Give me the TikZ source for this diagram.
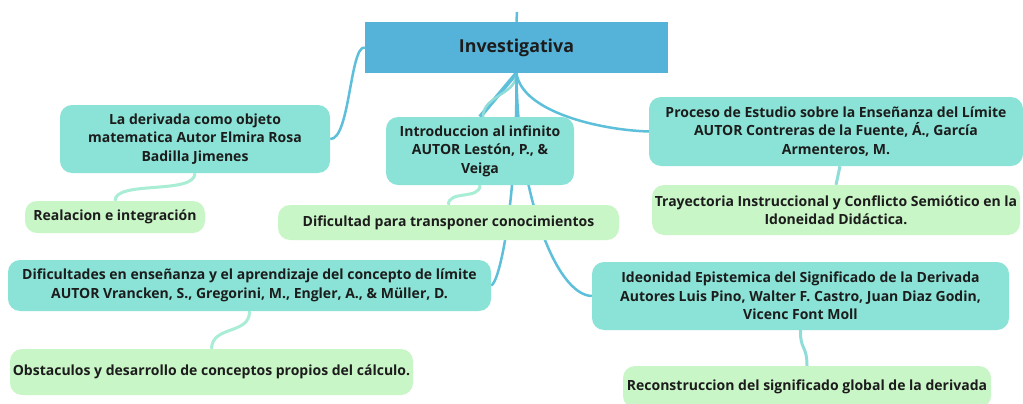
\documentclass[tikz,border=0pt]{standalone}
\usepackage{fontspec}
\setmainfont{Open Sans}
\usetikzlibrary{positioning}
\pgfdeclarelayer{background}
\pgfsetlayers{background,main}
\definecolor{rootblue}{HTML}{55B3D9}
\definecolor{topicteal}{HTML}{8AE3D6}
\definecolor{subgreen}{HTML}{C9F6C6}
\definecolor{linkblue}{HTML}{5DBFDA}
\definecolor{linkteal}{HTML}{8FDCD8}
\definecolor{linkgreen}{HTML}{A8EDD4}
\definecolor{inktext}{HTML}{1C1C1C}
\tikzset{
  rootbox/.style={fill=rootblue, minimum width=303pt, minimum height=51pt,
    font=\fontsize{17.8}{20}\selectfont\bfseries, text=inktext},
  topicbox/.style={fill=topicteal, rounded corners=12pt, align=center,
    font=\fontsize{14}{18.5}\selectfont\bfseries, text=inktext, inner sep=0pt},
  subbox/.style={fill=subgreen, rounded corners=12pt, align=center,
    font=\fontsize{14}{18.5}\selectfont\bfseries, text=inktext, inner sep=0pt},
  trunk/.style={draw=linkblue, line width=4pt},
  branch/.style={draw=linkblue, line width=2.5pt},
  twig/.style={draw=linkgreen, line width=3pt}
}
\begin{document}
\begin{tikzpicture}[x=1pt, y=-1pt]
\useasboundingbox (0,0) rectangle (1023,404);
% nodes placed at pixel centres
\coordinate (top) at (517,12);
\node[rootbox] (root) at (516.5,47.5) {Investigativa};
\node[topicbox, minimum width=270pt, minimum height=68pt] (deriv) at (195,139)
  {La derivada como objeto\\matematica Autor Elmira Rosa\\Badilla Jimenes};
\node[subbox, minimum width=180pt, minimum height=32pt] (relac) at (115,217)
  {Realacion e integración};
\node[topicbox, minimum width=188pt, minimum height=68pt] (infin) at (480,151)
  {Introduccion al infinito\\AUTOR Lestón, P., \&\\Veiga};
\node[subbox, minimum width=341pt, minimum height=35pt] (transp) at (448.5,222.5)
  {Dificultad para transponer conocimientos};
\node[topicbox, minimum width=374pt, minimum height=69pt] (limite) at (836,131.5)
  {Proceso de Estudio sobre la Enseñanza del Límite\\AUTOR Contreras de la Fuente, Á., García\\Armenteros, M.};
\node[subbox, minimum width=368pt, minimum height=50pt] (trayec) at (836,210)
  {Trayectoria Instruccional y Conflicto Semiótico en la\\Idoneidad Didáctica.};
\node[topicbox, minimum width=483pt, minimum height=51pt] (dific) at (249.5,285.5)
  {Dificultades en enseñanza y el aprendizaje del concepto de límite\\AUTOR Vrancken, S., Gregorini, M., Engler, A., \& Müller, D.};
\node[subbox, minimum width=403pt, minimum height=46pt] (obstac) at (211.5,372)
  {Obstaculos y desarrollo de conceptos propios del cálculo.};
\node[topicbox, minimum width=417pt, minimum height=68pt] (ideon) at (800.5,296)
  {Ideonidad Epistemica del Significado de la Derivada\\Autores Luis Pino, Walter F. Castro, Juan Diaz Godin,\\Vicenc Font Moll};
\node[subbox, minimum width=368pt, minimum height=42pt] (recons) at (807,387)
  {Reconstruccion del significado global de la derivada};
% connectors behind the boxes
\begin{pgfonlayer}{background}
\fill[white] (0,0) rectangle (1023,404);
\draw[branch] (top) -- (root.north);
\draw[trunk] (root.south) -- (infin.north);
\draw[branch] (root.west) .. controls (350,45) and (350,140) .. (deriv.east);
\draw[branch, draw=linkteal] (root.south) .. controls (517,95) and (483,95) .. ([xshift=3pt]infin.north);
\draw[branch] (root.south) .. controls (522,112) and (600,130) .. (limite.west);
\draw[branch] (root.south) .. controls (517,200) and (500,282) .. (dific.east);
\draw[branch] (root.south) .. controls (517,190) and (555,295) .. (ideon.west);
\draw[twig] (deriv.south) .. controls (195,195) and (115,180) .. (relac.north);
\draw[twig] (infin.south) .. controls (480,200) and (448,190) .. (transp.north);
\draw[twig, draw=linkteal] ([xshift=4pt]limite.south) -- (trayec.north);
\draw[twig] (dific.south) .. controls (250,335) and (212,325) .. (obstac.north);
\draw[twig, draw=linkteal] (ideon.south) .. controls (800,350) and (807,345) .. (recons.north);
\end{pgfonlayer}
\end{tikzpicture}
\end{document}
